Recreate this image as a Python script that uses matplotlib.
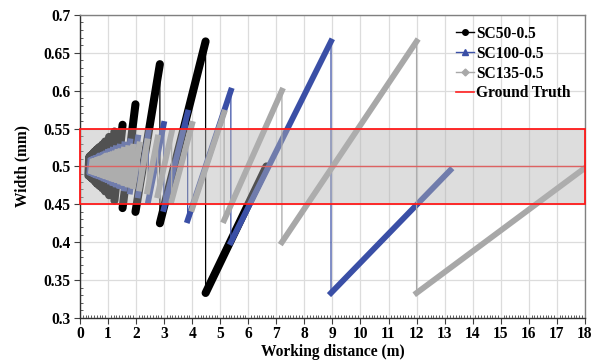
import numpy as np
import matplotlib
matplotlib.use("Agg")
import matplotlib.pyplot as plt
from matplotlib.lines import Line2D
from matplotlib.patches import Rectangle

plt.rcParams['font.family'] = ['Liberation Serif', 'DejaVu Serif']
plt.rcParams['font.weight'] = 'bold'

# ---------------- data ----------------
# Each series is a sawtooth: tooth i rises from (edges[i], low[i]) to (edges[i+1], high[i]),
# then drops vertically to the start of the next tooth.
sc50_edges = [0.30, 0.33, 0.347, 0.366, 0.387, 0.41, 0.437, 0.467, 0.501, 0.542, 0.589,
              0.645, 0.71, 0.80, 0.90, 1.04, 1.23, 1.52, 1.98, 2.85, 4.48, 6.65]
sc50_low = [0.488, 0.488, 0.487, 0.487, 0.486, 0.485, 0.484, 0.483, 0.482, 0.480,
            0.478, 0.476, 0.474, 0.471, 0.467, 0.462, 0.455, 0.445, 0.440, 0.425, 0.333]
sc50_high = [0.512, 0.513, 0.514, 0.514, 0.515, 0.516, 0.517, 0.519, 0.520, 0.522,
             0.524, 0.526, 0.529, 0.533, 0.539, 0.546, 0.555, 0.582, 0.635, 0.665, 0.500]

sc100_edges = [0.34, 0.37, 0.40, 0.43, 0.46, 0.49, 0.52, 0.55, 0.58, 0.62, 0.656, 0.689,
               0.726, 0.768, 0.815, 0.867, 0.927, 0.996, 1.075, 1.169, 1.28, 1.415,
               1.58, 1.79, 2.07, 2.44, 2.99, 3.84, 5.38, 8.95, 13.2]
sc100_low = [0.493, 0.492, 0.492, 0.491, 0.491, 0.490, 0.490, 0.489, 0.489, 0.488,
             0.488, 0.487, 0.487, 0.486, 0.485, 0.484, 0.483, 0.482, 0.480, 0.478,
             0.476, 0.474, 0.471, 0.467, 0.462, 0.455, 0.444, 0.429, 0.400, 0.333]
sc100_high = [0.507, 0.508, 0.508, 0.509, 0.509, 0.510, 0.510, 0.511, 0.511, 0.512,
              0.513, 0.514, 0.514, 0.515, 0.516, 0.517, 0.519, 0.520, 0.522, 0.524,
              0.526, 0.529, 0.533, 0.538, 0.545, 0.556, 0.571, 0.600, 0.665, 0.495]

sc135_edges = [0.40, 0.44, 0.48, 0.52, 0.56, 0.60, 0.64, 0.68, 0.72, 0.76, 0.80, 0.84,
               0.878, 0.923, 0.973, 1.029, 1.091, 1.161, 1.241, 1.333, 1.44, 1.565,
               1.714, 1.895, 2.12, 2.40, 2.77, 3.27, 4.00, 5.14, 7.20, 12.0, 18.0]
sc135_low = [0.494, 0.494, 0.493, 0.493, 0.492, 0.492, 0.491, 0.491, 0.490, 0.490,
             0.489, 0.489, 0.488, 0.487, 0.487, 0.486, 0.485, 0.484, 0.483, 0.482,
             0.480, 0.478, 0.476, 0.474, 0.471, 0.467, 0.462, 0.455, 0.444, 0.429,
             0.400, 0.333]
sc135_high = [0.506, 0.506, 0.507, 0.507, 0.508, 0.508, 0.509, 0.509, 0.510, 0.510,
              0.511, 0.512, 0.513, 0.514, 0.514, 0.515, 0.516, 0.517, 0.519, 0.520,
              0.522, 0.524, 0.526, 0.529, 0.533, 0.538, 0.545, 0.556, 0.571, 0.600,
              0.665, 0.498]

ground_truth = 0.5
tolerance = 0.05
x_range = [0, 18]

series_labels = ['SC50-0.5', 'SC100-0.5', 'SC135-0.5', 'Ground Truth']

# ---------------- figure ----------------
fig = plt.figure(figsize=(5.92, 3.63), dpi=100)
ax = fig.add_axes([0.135, 0.124, 0.853, 0.835])


def sawtooth(edges, low, high):
    xs, ys, tx, ty = [], [], [], []
    for i in range(len(low)):
        xs += [edges[i], edges[i + 1]]
        ys += [low[i], high[i]]
        tx += [edges[i], edges[i + 1], np.nan]
        ty += [low[i], high[i], np.nan]
    return xs, ys, tx, ty


styles = [
    (sc50_edges, sc50_low, sc50_high, '#000000', 5.8, 'round'),
    (sc100_edges, sc100_low, sc100_high, '#3a4fa6', 4.2, 'projecting'),
    (sc135_edges, sc135_low, sc135_high, '#a8a8a8', 4.2, 'projecting'),
]
for k, (e, lo, hi, col, lw, cap) in enumerate(styles):
    xs, ys, tx, ty = sawtooth(e, lo, hi)
    ax.plot(xs, ys, color=col, lw=0.9, zorder=3 + k)
    ax.plot(tx, ty, color=col, lw=lw, solid_capstyle=cap, zorder=3 + k)

ax.plot(x_range, [ground_truth, ground_truth], color='#ff2020', lw=1.0, zorder=7)

ax.add_patch(Rectangle((x_range[0], ground_truth - tolerance), x_range[1] - x_range[0],
                       2 * tolerance, facecolor='#b4b4b4', alpha=0.45,
                       edgecolor='none', zorder=8))
ax.add_patch(Rectangle((x_range[0], ground_truth - tolerance), x_range[1] - x_range[0],
                       2 * tolerance, facecolor='none', edgecolor='#ff1a1a',
                       lw=1.3, zorder=9, clip_on=False))

ax.set_xlim(0, 18)
ax.set_ylim(0.3, 0.7)
ax.set_xticks(np.arange(0, 19, 1))
ax.set_yticks(np.arange(0.3, 0.7001, 0.05))
ax.set_yticklabels(['0.3', '0.35', '0.4', '0.45', '0.5', '0.55', '0.6', '0.65', '0.7'])
ax.set_xticks(np.arange(0, 18.01, 0.1), minor=True)
ax.set_yticks(np.arange(0.3, 0.7001, 0.01), minor=True)
ax.grid(True, which='major', color='#dcdcdc', lw=0.9, zorder=0)
ax.set_axisbelow(True)

ax.tick_params(axis='both', which='major', labelsize=11.2, direction='out', length=4,
               width=0.8, color='#404040', pad=3)
ax.tick_params(axis='x', which='major', pad=2)
ax.tick_params(axis='both', which='minor', direction='in', length=2.5, width=0.6,
               color='#404040')
for lab in ax.get_xticklabels() + ax.get_yticklabels():
    lab.set_fontweight('bold')

for s in ['left', 'bottom']:
    ax.spines[s].set_color('#303030')
    ax.spines[s].set_linewidth(1.0)
for s in ['top', 'right']:
    ax.spines[s].set_color('#808080')
    ax.spines[s].set_linewidth(1.0)

ax.set_xlabel('Working distance (m)', fontsize=11.2, fontweight='bold', labelpad=1)
ax.set_ylabel('Width (mm)', fontsize=11.2, fontweight='bold', labelpad=9)

handles = [
    Line2D([], [], color='#000000', lw=1.0, marker='o', markersize=4),
    Line2D([], [], color='#3a4fa6', lw=1.0, marker='^', markersize=4.5),
    Line2D([], [], color='#a8a8a8', lw=1.0, marker='D', markersize=3.5),
    Line2D([], [], color='#ff2020', lw=1.2),
]
ax.legend(handles, series_labels, loc='upper right', bbox_to_anchor=(0.99, 0.995),
          frameon=False, handlelength=1.2, handletextpad=0.1,
          labelspacing=0.25, borderaxespad=0.2, prop={'weight': 'bold', 'size': 11.2})

fig.savefig('out.png', dpi=100)
